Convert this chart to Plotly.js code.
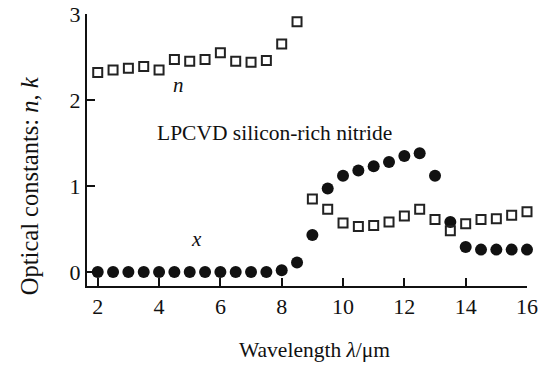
<!DOCTYPE html>
<html>
<head>
<meta charset="utf-8">
<script src="https://cdn.plot.ly/plotly-3.0.1.min.js"></script>
<style>html,body{margin:0;padding:0;background:#fff;}#chart{width:540px;height:365px;}</style>
</head>
<body>
<div id="chart"></div>
<script>
const wavelength = [2.0, 2.5, 3.0, 3.5, 4.0, 4.5, 5.0, 5.5, 6.0, 6.5, 7.0, 7.5, 8.0, 8.5, 9.0, 9.5, 10.0, 10.5, 11.0, 11.5, 12.0, 12.5, 13.0, 13.5, 14.0, 14.5, 15.0, 15.5, 16.0];
const nValues = [2.32, 2.35, 2.37, 2.39, 2.35, 2.47, 2.45, 2.47, 2.55, 2.45, 2.44, 2.46, 2.65, 2.91, 0.85, 0.73, 0.57, 0.53, 0.54, 0.58, 0.65, 0.73, 0.61, 0.48, 0.56, 0.61, 0.62, 0.66, 0.70];
const kValues = [0, 0, 0, 0, 0, 0, 0, 0, 0, 0, 0, 0, 0.02, 0.11, 0.43, 0.97, 1.12, 1.18, 1.23, 1.28, 1.35, 1.38, 1.12, 0.58, 0.29, 0.26, 0.26, 0.26, 0.26];
const xTicks = [2, 4, 6, 8, 10, 12, 14, 16];
const yTicks = [0, 1, 2, 3];

const font = 'Liberation Serif, Times New Roman, serif';

const traces = [
  {x: wavelength, y: kValues, type: 'scatter', mode: 'markers', name: 'k',
   marker: {symbol: 'circle', size: 12, color: '#111'}, cliponaxis: false},
  {x: wavelength, y: nValues, type: 'scatter', mode: 'markers', name: 'n',
   marker: {symbol: 'square-open', size: 9, color: '#222', line: {width: 2, color: '#222'}}, cliponaxis: false}
];

const layout = {
  width: 540, height: 365,
  margin: {l: 87, r: 13, t: 14, b: 79},
  paper_bgcolor: '#fff', plot_bgcolor: '#fff',
  showlegend: false,
  font: {family: font, size: 21, color: '#111'},
  xaxis: {
    range: [1.65, 16], tickvals: xTicks, ticktext: xTicks.map(String),
    showline: true, linewidth: 2, linecolor: '#111', showgrid: false, zeroline: false,
    ticks: 'inside', ticklen: 8, tickwidth: 2, tickcolor: '#111',
    tickfont: {family: font, size: 22, color: '#111'}
  },
  yaxis: {
    range: [-0.163, 3], tickvals: yTicks, ticktext: yTicks.map(String),
    showline: true, linewidth: 2, linecolor: '#111', showgrid: false, zeroline: false,
    ticks: 'inside', ticklen: 8, tickwidth: 2, tickcolor: '#111',
    tickfont: {family: font, size: 22, color: '#111'}
  },
  annotations: [
    {x: 0.518, y: -0.235, xref: 'paper', yref: 'paper', xanchor: 'center', yanchor: 'middle',
     text: 'Wavelength <i>λ</i>/μm', showarrow: false, font: {family: font, size: 21.5, color: '#111'}},
    {x: -0.13, y: 0.37, xref: 'paper', yref: 'paper', xanchor: 'center', yanchor: 'middle',
     text: 'Optical constants: <i>n</i>, <i>k</i>', textangle: -90,
     showarrow: false, font: {family: font, size: 24.5, color: '#111'}},
    {x: 4.65, y: 2.17, xref: 'x', yref: 'y', text: '<i>n</i>', showarrow: false, font: {family: font, size: 21, color: '#111'}},
    {x: 5.23, y: 0.38, xref: 'x', yref: 'y', text: '<i>x</i>', showarrow: false, font: {family: font, size: 21, color: '#111'}},
    {x: 7.77, y: 1.62, xref: 'x', yref: 'y', text: 'LPCVD silicon-rich nitride', showarrow: false, font: {family: font, size: 21.5, color: '#111'}}
  ]
};

Plotly.newPlot('chart', traces, layout, {displayModeBar: false, staticPlot: true});
</script>
</body>
</html>
